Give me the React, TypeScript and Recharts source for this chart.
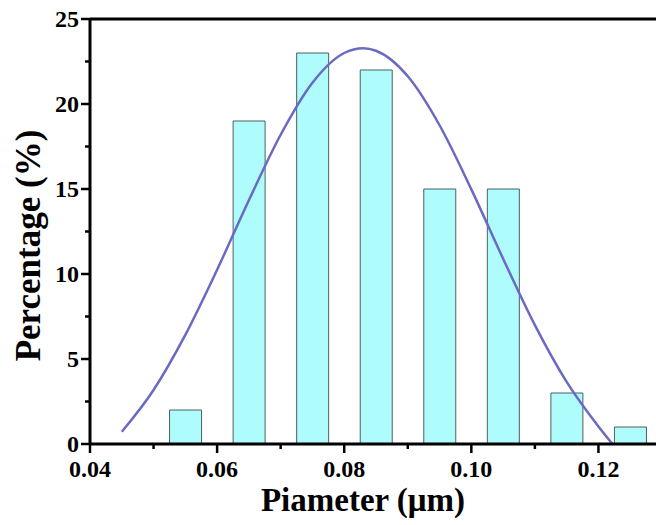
import React from 'react';
import { ComposedChart, Bar, Line, XAxis, YAxis, ReferenceLine } from 'recharts';

const binCenters = [0.055, 0.065, 0.075, 0.085, 0.095, 0.105, 0.115, 0.125];
const percentages = [2, 19, 23, 22, 15, 15, 3, 1];

const fitX = [0.045, 0.05, 0.055, 0.06, 0.065, 0.07, 0.075, 0.08, 0.083, 0.085, 0.09, 0.095, 0.1, 0.105, 0.11, 0.115, 0.12, 0.1222];
const fitY = [0.72, 3.18, 6.42, 10.25, 14.34, 18.19, 21.25, 23.0, 23.28, 23.13, 21.63, 18.75, 14.98, 10.9, 6.99, 3.65, 1.03, 0.0];

const xTicks = [0.04, 0.05, 0.06, 0.07, 0.08, 0.09, 0.1, 0.11, 0.12, 0.13];
const yTicks = [0, 2.5, 5, 7.5, 10, 12.5, 15, 17.5, 20, 22.5, 25];

const barRows = binCenters.map((x, i) => ({ x, pct: percentages[i] }));
const fitRows = fitX.map((x, i) => ({ fx: x, fit: fitY[i] }));

const FONT = '"Liberation Serif", "Times New Roman", serif';

const XTick = (props: any) => {
  const { x, y, payload } = props;
  const v = payload.value as number;
  const major = Math.round(v * 100) % 2 === 0;
  return (
    <g>
      <path d={`M${x},${y} L${x},${y + (major ? 9 : 5)}`} stroke="#000000" strokeWidth={2.5} fill="none" />
      {major && (
        <text x={x} y={y + 33} textAnchor="middle" fontFamily={FONT} fontWeight="bold" fontSize={24} fill="#000">
          {v.toFixed(2)}
        </text>
      )}
    </g>
  );
};

const YTick = (props: any) => {
  const { x, y, payload } = props;
  const v = payload.value as number;
  const major = v % 5 === 0;
  return (
    <g>
      <path d={`M${x},${y} L${x - (major ? 9 : 5)},${y}`} stroke="#000000" strokeWidth={2.5} fill="none" />
      {major && (
        <text x={x - 11} y={y + 8} textAnchor="end" fontFamily={FONT} fontWeight="bold" fontSize={24} fill="#000">
          {String(v)}
        </text>
      )}
    </g>
  );
};

const XTitle = (props: any) => {
  const vb = props.viewBox || {};
  const cx = (vb.x ?? 90) + (vb.width ?? 572) / 2 - 13;
  return (
    <text x={cx} y={511} textAnchor="middle" fontFamily={FONT} fontWeight="bold" fontSize={33} fill="#000">
      Piameter (μm)
    </text>
  );
};

const YTitle = (props: any) => {
  const vb = props.viewBox || {};
  const cy = (vb.y ?? 19) + (vb.height ?? 425) / 2 + 14;
  return (
    <text x={40} y={cy} transform={`rotate(-90 40 ${cy})`} textAnchor="middle" fontFamily={FONT} fontWeight="bold" fontSize={35} fill="#000">
      Percentage (%)
    </text>
  );
};

export default function App() {
  return (
    <div style={{ position: 'absolute', left: 0, top: 0, width: 656, height: 525, overflow: 'hidden', background: '#fff' }}>
      <ComposedChart width={680} height={525} data={barRows} margin={{ top: 19, right: 18, bottom: 0, left: 0 }}>
        <XAxis
          xAxisId="main"
          dataKey="x"
          type="number"
          domain={[0.04, 0.13]}
          ticks={xTicks}
          interval={0}
          allowDataOverflow
          height={81}
          tickSize={0}
          tickMargin={0}
          tickLine={false}
          tick={<XTick />}
          axisLine={{ stroke: '#000', strokeWidth: 3 }}
          label={<XTitle />}
        />
        <XAxis
          xAxisId="fit"
          dataKey="fx"
          type="number"
          domain={[0.04, 0.13]}
          allowDataOverflow
          height={0}
          hide
        />
        <YAxis
          type="number"
          domain={[0, 25]}
          ticks={yTicks}
          interval={0}
          width={90}
          tickSize={0}
          tickMargin={0}
          tickLine={false}
          tick={<YTick />}
          axisLine={{ stroke: '#000', strokeWidth: 3 }}
          label={<YTitle />}
        />
        <ReferenceLine xAxisId="main" y={25} stroke="#000" strokeWidth={3} />
        <Bar xAxisId="main" dataKey="pct" barSize={32} fill="#aefcfc" stroke="#4d5f5f" strokeWidth={1} isAnimationActive={false} />
        <Line xAxisId="fit" data={fitRows} dataKey="fit" type="monotone" stroke="#6a6ac2" strokeWidth={2.5} dot={false} isAnimationActive={false} />
      </ComposedChart>
    </div>
  );
}
